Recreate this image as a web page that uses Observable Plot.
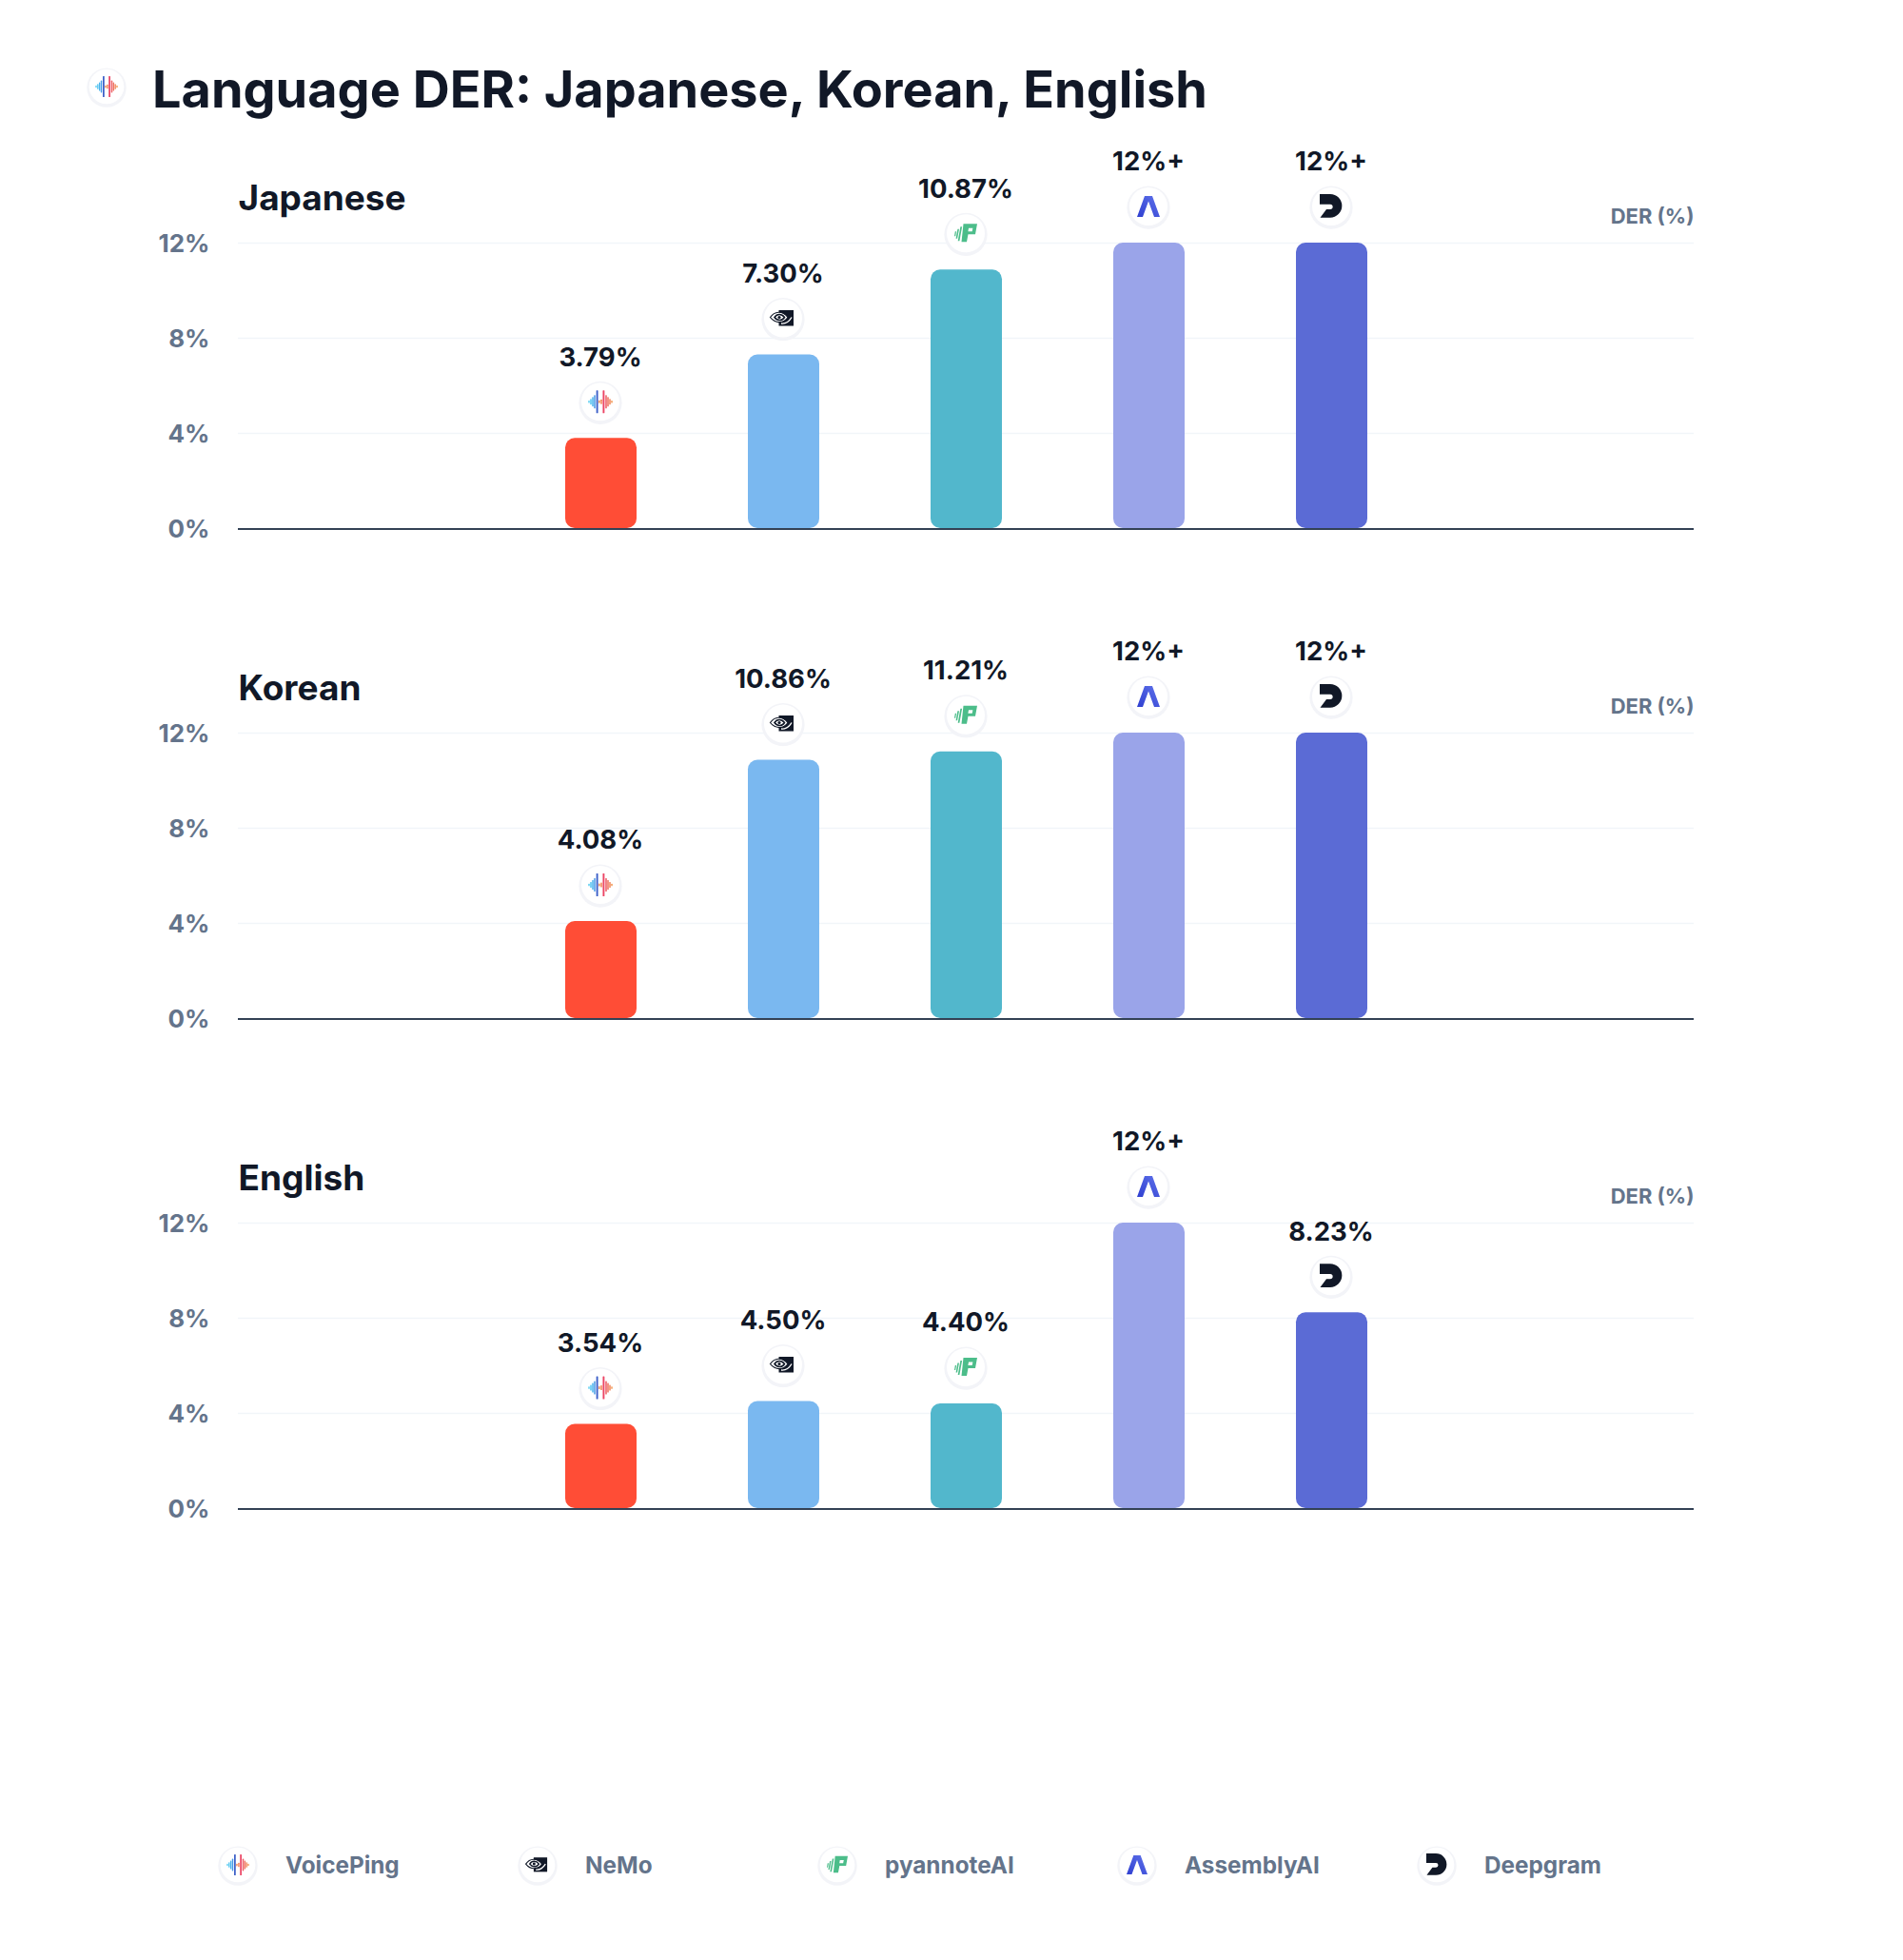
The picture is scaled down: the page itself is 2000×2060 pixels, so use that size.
<!DOCTYPE html>
<html>
<head>
<meta charset="utf-8">
<script src="https://cdn.jsdelivr.net/npm/d3@7"></script>
<script src="https://cdn.jsdelivr.net/npm/@observablehq/plot@0.6"></script>
<style>
html,body{margin:0;padding:0;background:#fff;font-family:Inter,sans-serif}
#page{width:2000px;height:2060px;position:relative;overflow:hidden}
#head{height:140px;position:relative}
#head img{position:absolute;left:90px;top:69px;width:44px;height:44px}
#head h1{position:absolute;left:160px;top:56px;margin:0;font:700 54px/76px Inter,sans-serif;color:#111827;white-space:nowrap}
#charts svg{display:block;overflow:visible}
#legend{position:absolute;left:228px;top:1938px;display:flex}
.item{width:315px;height:44px;display:flex;align-items:center}
.item img{width:44px;height:44px;margin-right:28px}
.item span{font:650 24.3px Inter,sans-serif;color:#64748b;position:relative;top:0}
</style>
</head>
<body>
<div id="page">
  <div id="head"></div>
  <div id="charts"></div>
  <div id="legend"></div>
</div>
<script>
const titleText = "Language DER: Japanese, Korean, English";
const models = ["VoicePing", "NeMo", "pyannoteAI", "AssemblyAI", "Deepgram"];
const colors = ["#ff4d36", "#7ab8f0", "#52b7cc", "#9aa4e9", "#5b6bd5"];
const languages = ["Japanese", "Korean", "English"];
const japanese = [3.79, 7.30, 10.87, 12, 12];
const korean = [4.08, 10.86, 11.21, 12, 12];
const english = [3.54, 4.50, 4.40, 12, 8.23];
const yTicks = [0, 4, 8, 12];
const axisLabel = "DER (%)";

// logo artwork, drawn around the origin of a small badge
const bar = (x, h, c, w = 1.5) => `<rect x="${x - w / 2}" y="${-h / 2}" width="${w}" height="${h}" rx="0.6" fill="${c}"/>`;
const glyphs = {
  VoicePing: bar(-12, 2.5, "#5fd0f2") + bar(-10, 6, "#52c5f0") + bar(-8, 10, "#4ab3ec") + bar(-6, 14, "#469ae6")
    + bar(-3.4, 24, "#3c5fc8", 1.9) + bar(-1.2, 3, "#f28f55") + bar(1, 5, "#f3824f")
    + bar(3.4, 24, "#ec4565", 1.9) + bar(6, 14, "#ec5a60") + bar(8, 10, "#ee6f5c") + bar(10, 6, "#f08458") + bar(12, 2.5, "#f29a55"),
  NeMo: `<path d="M-4.5-8.5H11V8H-4.5Z" fill="#111827"/>
    <path d="M-13.5-1C-9-7.5-1-8.5 5-1C1 5.5-8 6-13.5-1Z" fill="#fff" stroke="#111827" stroke-width="1.2"/>
    <path d="M-9-1C-6.5-5-1.5-5 1.5-1C-1 3-6 3-9-1Z" fill="none" stroke="#111827" stroke-width="1.6"/>
    <circle cx="-4" cy="-1" r="1.6" fill="#111827"/>
    <path d="M-2 5.5C2 6 6 4 9-1" fill="none" stroke="#fff" stroke-width="1.4"/>`,
  pyannoteAI: `<g fill="#4cbd8a"><path d="M-2.5-10H12L10 1H2.5L1 9H-4.5Z"/><path d="M-5.6-7H-3.9L-6.6 8H-8.3Z"/><path d="M-8.6-4.5H-7L-8.9 5.5H-10.4Z"/><path d="M-11.2-2H-9.9L-10.8 3H-12Z"/></g><path d="M3-5.5H7.4L6.7-2H2.4Z" fill="#fff"/>`,
  AssemblyAI: `<defs><linearGradient id="g" x1="0" y1="1" x2="1" y2="0"><stop offset="0" stop-color="#2f3fd0"/><stop offset="1" stop-color="#5f72ea"/></linearGradient></defs>
    <path d="M-4-11H4L12 11H6L0-5.5-6 11H-12Z" fill="url(#g)"/>`,
  Deepgram: `<path d="M-12-13H-1A12.3 12.3 0 0 1-1 11.7H-11.5L-5 3H-1A2.6 2.6 0 0 0-1-2.3H-12Z" fill="#111827"/>`
};
const logoSrc = Object.fromEntries(models.map(m => [m, "data:image/svg+xml;utf8," + encodeURIComponent(
  `<svg xmlns="http://www.w3.org/2000/svg" viewBox="-24 -24 48 48"><circle cy="1.2" r="22.6" fill="#f3f4f8"/><circle r="20" fill="#fff"/>${glyphs[m]}</svg>`
)]));

const series = [japanese, korean, english];
const fmt = v => v >= 12 ? "12%+" : v.toFixed(2) + "%";

languages.forEach((lang, li) => {
  const rows = models.map((m, i) => ({model: m, value: series[li][i], label: fmt(series[li][i])}));
  const plot = Plot.plot({
    width: 2000, height: 515,
    marginLeft: 250, marginRight: 220, marginTop: 115, marginBottom: 100,
    style: {fontFamily: "Inter, sans-serif", background: "transparent"},
    x: {type: "band", domain: models, range: [535.5, 1495.5], round: false, paddingInner: 0.609375, paddingOuter: 0.3046875, axis: null},
    y: {domain: [0, 12], range: [415, 115], label: null},
    color: {domain: models, range: colors},
    marks: [
      Plot.ruleY(yTicks.filter(t => t > 0), {stroke: "#f1f5f9", strokeWidth: 1.5}),
      Plot.axisY({ticks: yTicks, tickSize: 0, tickPadding: 30, dy: 1.5, tickFormat: d => d + "%", fontSize: 26, fontWeight: 650, fontVariant: "normal", fill: "#64748b", label: null}),
      Plot.barY(rows, {x: "model", y: "value", fill: "model", rx: 10}),
      Plot.ruleY([0], {stroke: "#334155", strokeWidth: 2, dy: 0.5}),
      Plot.image(rows, {x: "model", y: "value", src: d => logoSrc[d.model], width: 48, height: 48, dy: -38.5, dx: -1}),
      Plot.text(rows, {x: "model", y: "value", text: "label", dy: -85, dx: -1, fontSize: 27.5, fontWeight: 650, fill: "#111827"}),
      Plot.text([lang], {frameAnchor: "top-left", dy: -46.5, lineAnchor: "middle", text: d => d, fontSize: 37, fontWeight: 700, fill: "#111827"}),
      Plot.text([axisLabel], {frameAnchor: "top-right", dy: -27.5, lineAnchor: "middle", text: d => d, fontSize: 22, fontWeight: 650, fill: "#64748b"})
    ]
  });
  document.getElementById("charts").appendChild(plot);
});

const head = document.getElementById("head");
const hi = new Image(); hi.src = logoSrc.VoicePing; head.appendChild(hi);
const h1 = document.createElement("h1"); h1.textContent = titleText; head.appendChild(h1);

const legend = document.getElementById("legend");
models.forEach(m => {
  const it = document.createElement("div"); it.className = "item";
  const im = new Image(); im.src = logoSrc[m];
  const sp = document.createElement("span"); sp.textContent = m;
  it.append(im, sp); legend.appendChild(it);
});
</script>
</body>
</html>
